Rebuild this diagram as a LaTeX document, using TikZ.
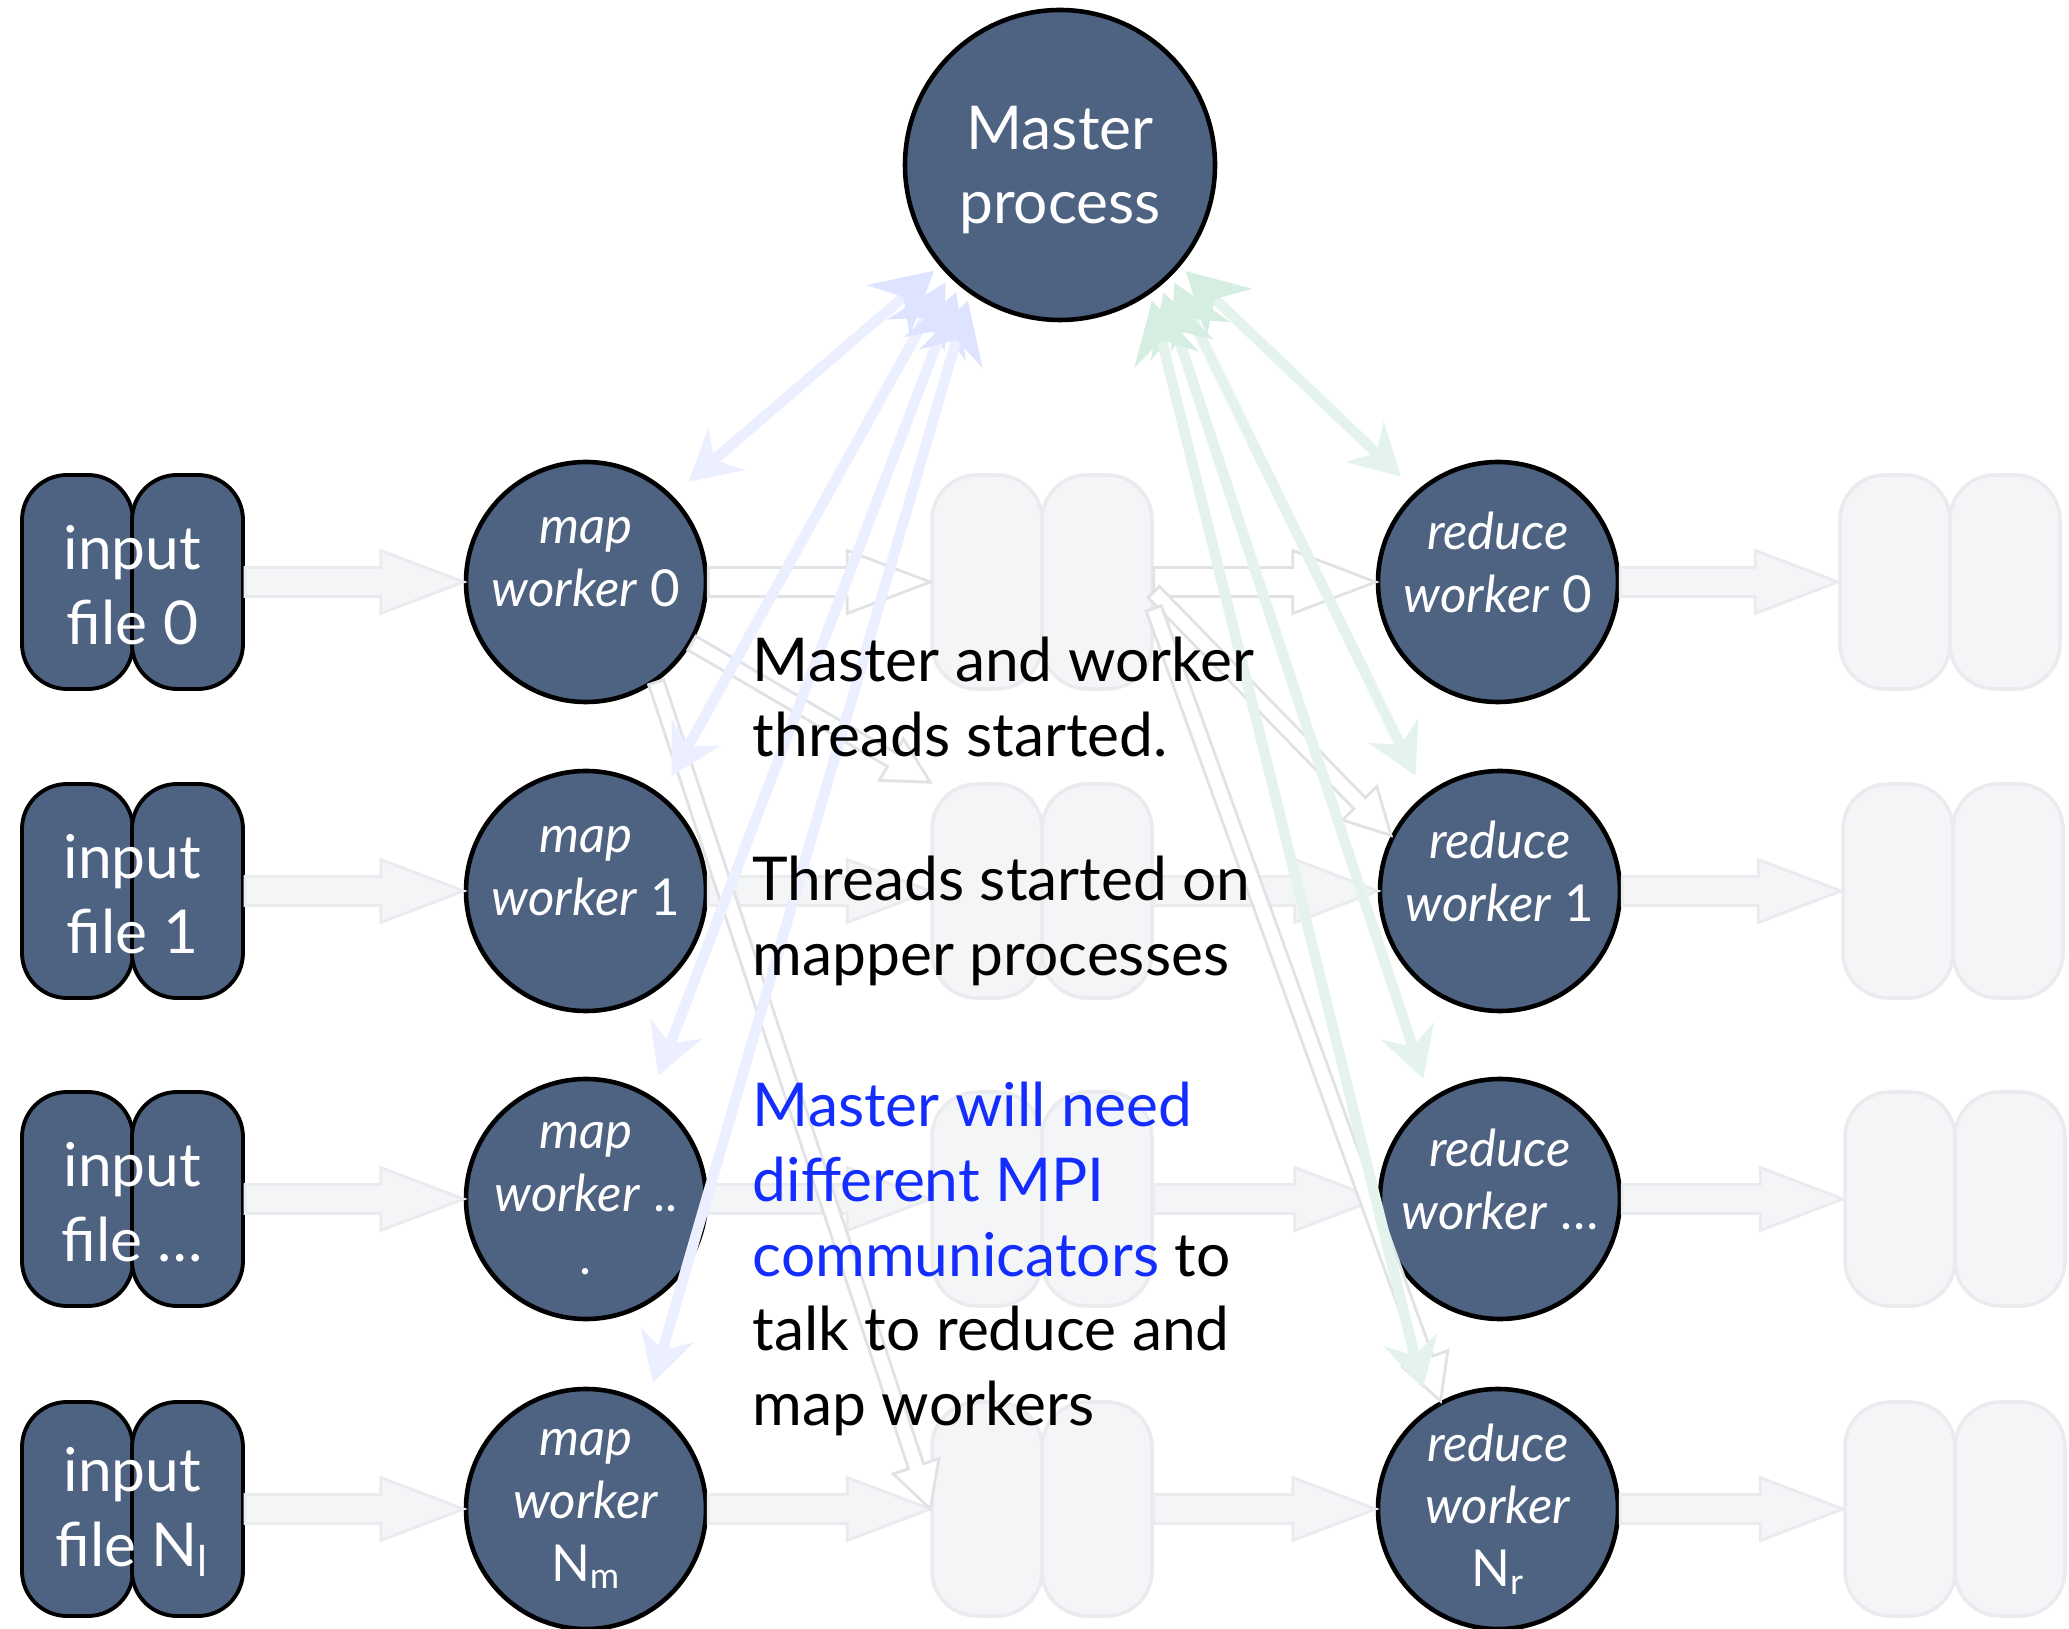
\documentclass[tikz,border=0pt]{standalone}
\usepackage{fontspec}
\setmainfont{Lato}
\usetikzlibrary{calc,arrows.meta}

\definecolor{slate}{RGB}{78,98,130}
\definecolor{ghost}{RGB}{244,245,247}
\definecolor{ghostline}{RGB}{234,235,238}
\definecolor{hollowline}{RGB}{225,226,230}
\definecolor{mpiblue}{RGB}{20,45,255}
\definecolor{chalkblue}{RGB}{236,239,255}
\definecolor{chalkbluehead}{RGB}{222,227,255}
\definecolor{chalkgreen}{RGB}{229,243,237}
\definecolor{chalkgreenhead}{RGB}{214,237,226}

% block arrow: style, from, to, half shaft, half head, head length
\newcommand{\fatarrow}[6]{%
  \coordinate (fb) at ($(#3)!#6!(#2)$);
  \filldraw[#1] ($(#2)!#4!90:(#3)$) -- ($(fb)!#4!-90:(#2)$) -- ($(fb)!#5!-90:(#2)$) -- (#3)
    -- ($(fb)!#5!90:(#2)$) -- ($(fb)!#4!90:(#2)$) -- ($(#2)!#4!-90:(#3)$) -- cycle;}

\begin{document}
\begin{tikzpicture}[
    filebox/.style={draw=black, line width=1.1pt, fill=slate, rounded corners=0.45cm, minimum width=1.11cm, minimum height=2.14cm, inner sep=0pt},
    ghostbox/.style={draw=ghostline, line width=1pt, fill=ghost, rounded corners=0.45cm, minimum width=1.10cm, minimum height=2.14cm, inner sep=0pt},
    worker/.style={circle, draw=black, line width=1.3pt, fill=slate, minimum size=2.40cm, inner sep=0pt},
    wtext/.style={text=white, align=center, inner sep=0pt, font=\fontsize{14.5}{17.9}\selectfont},
    btext/.style={text=white, align=center, inner sep=0pt, font=\fontsize{17.2}{21.3}\selectfont},
    note/.style={align=left, anchor=west, inner sep=0pt, font=\fontsize{17.2}{21.3}\selectfont},
    flow/.style={draw=ghostline, fill=ghost, line width=0.8pt},
    hollow/.style={draw=hollowline, fill=white, line width=0.8pt},
    chalkb/.style={draw=chalkblue, line width=3pt, shorten <=2pt, shorten >=6pt,
        {Stealth[length=0.6cm,width=0.65cm,color=chalkbluehead]}-{Stealth[length=0.5cm,width=0.55cm]}},
    chalkg/.style={draw=chalkgreen, line width=3pt, shorten <=2pt, shorten >=6pt,
        {Stealth[length=0.6cm,width=0.65cm,color=chalkgreenhead]}-{Stealth[length=0.5cm,width=0.55cm]}},
]
\useasboundingbox (0,0) rectangle (20.69,-16.29);

% faint file pairs in the middle and on the right
\node[ghostbox] (mid0l) at (9.87,-5.82) {};
\node[ghostbox] (mid0r) at (10.97,-5.82) {};
\node[ghostbox] (mid1l) at (9.87,-8.91) {};
\node[ghostbox] (mid1r) at (10.97,-8.91) {};
\node[ghostbox] (mid2l) at (9.87,-11.99) {};
\node[ghostbox] (mid2r) at (10.97,-11.99) {};
\node[ghostbox] (mid3l) at (9.87,-15.09) {};
\node[ghostbox] (mid3r) at (10.97,-15.09) {};

\node[ghostbox] (out0l) at (18.95,-5.82) {};
\node[ghostbox] (out0r) at (20.05,-5.82) {};
\node[ghostbox] (out1l) at (18.98,-8.91) {};
\node[ghostbox] (out1r) at (20.08,-8.91) {};
\node[ghostbox] (out2l) at (19.00,-11.99) {};
\node[ghostbox] (out2r) at (20.10,-11.99) {};
\node[ghostbox] (out3l) at (19.00,-15.09) {};
\node[ghostbox] (out3r) at (20.10,-15.09) {};

% input files
\node[filebox] (in0l) at (0.775,-5.82) {};
\node[filebox] (in0r) at (1.875,-5.82) {};
\node[filebox] (in1l) at (0.775,-8.91) {};
\node[filebox] (in1r) at (1.875,-8.91) {};
\node[filebox] (in2l) at (0.775,-11.99) {};
\node[filebox] (in2r) at (1.875,-11.99) {};
\node[filebox] (in3l) at (0.775,-15.09) {};
\node[filebox] (in3r) at (1.875,-15.09) {};

% workers
\node[worker, minimum size=3.10cm] (master) at (10.60,-1.65) {};
\node[worker] (map0) at (5.86,-5.82) {};
\node[worker] (map1) at (5.86,-8.91) {};
\node[worker] (map2) at (5.86,-11.99) {};
\node[worker] (map3) at (5.86,-15.09) {};
\node[worker] (red0) at (14.98,-5.82) {};
\node[worker] (red1) at (15.00,-8.91) {};
\node[worker] (red2) at (15.00,-11.99) {};
\node[worker] (red3) at (14.98,-15.09) {};

% faint data flow
\fatarrow{flow}{in0r.east}{map0.west}{0.145cm}{0.315cm}{0.83cm}
\fatarrow{flow}{in1r.east}{map1.west}{0.145cm}{0.315cm}{0.83cm}
\fatarrow{flow}{in2r.east}{map2.west}{0.145cm}{0.315cm}{0.83cm}
\fatarrow{flow}{in3r.east}{map3.west}{0.145cm}{0.315cm}{0.83cm}
\fatarrow{hollow}{map0.east}{mid0l.west}{0.145cm}{0.315cm}{0.83cm}
\fatarrow{flow}{map1.east}{mid1l.west}{0.145cm}{0.315cm}{0.83cm}
\fatarrow{flow}{map2.east}{mid2l.west}{0.145cm}{0.315cm}{0.83cm}
\fatarrow{flow}{map3.east}{mid3l.west}{0.145cm}{0.315cm}{0.83cm}
\fatarrow{hollow}{mid0r.east}{red0.west}{0.145cm}{0.315cm}{0.83cm}
\fatarrow{flow}{mid1r.east}{red1.west}{0.145cm}{0.315cm}{0.83cm}
\fatarrow{flow}{mid2r.east}{red2.west}{0.145cm}{0.315cm}{0.83cm}
\fatarrow{flow}{mid3r.east}{red3.west}{0.145cm}{0.315cm}{0.83cm}
\fatarrow{flow}{red0.east}{out0l.west}{0.145cm}{0.315cm}{0.83cm}
\fatarrow{flow}{red1.east}{out1l.west}{0.145cm}{0.315cm}{0.83cm}
\fatarrow{flow}{red2.east}{out2l.west}{0.145cm}{0.315cm}{0.83cm}
\fatarrow{flow}{red3.east}{out3l.west}{0.145cm}{0.315cm}{0.83cm}

% shuffle
\fatarrow{hollow}{map0.-30}{mid1l.north west}{0.08cm}{0.24cm}{0.45cm}
\fatarrow{hollow}{map0.-55}{mid3l.west}{0.08cm}{0.24cm}{0.45cm}
\fatarrow{hollow}{mid0r.-10}{red1.153}{0.08cm}{0.24cm}{0.45cm}
\fatarrow{hollow}{mid0r.-25}{red3.118}{0.08cm}{0.24cm}{0.45cm}

% master talks to everybody
\draw[chalkb] (master.220) -- (map0.45);
\draw[chalkb] (master.225) -- (map1.52);
\draw[chalkb] (master.230) -- (map2.58);
\draw[chalkb] (master.235) -- (map3.60);
\draw[chalkg] (master.-40) -- (red0.132);
\draw[chalkg] (master.-45) -- (red1.128);
\draw[chalkg] (master.-50) -- (red2.125);
\draw[chalkg] (master.-55) -- (red3.125);

% labels
\node[btext] (master-t) at (10.60,-1.70) {Master\\process};
\node[btext] (in0) at (1.325,-5.85) {input\\file 0};
\node[btext] (in1) at (1.325,-8.94) {input\\file 1};
\node[btext] (in2) at (1.325,-12.02) {input\\file \dots};
\node[btext] (in3) at (1.325,-15.12) {input\\file N\textsubscript{l}};
\node[wtext] (map0-t) at (5.86,-5.62) {\textit{map}\\\textit{worker} 0};
\node[wtext] (map1-t) at (5.86,-8.71) {\textit{map}\\\textit{worker} 1};
\node[wtext] (map2-t) at (5.86,-11.99) {\textit{map}\\\textit{worker} ..\\.};
\node[wtext] (map3-t) at (5.86,-15.09) {\textit{map}\\\textit{worker}\\N\textsubscript{m}};
\node[wtext] (red0-t) at (14.98,-5.62) {\textit{reduce}\\\textit{worker} 0};
\node[wtext] (red1-t) at (15.00,-8.71) {\textit{reduce}\\\textit{worker} 1};
\node[wtext] (red2-t) at (15.00,-11.79) {\textit{reduce}\\\textit{worker} \dots};
\node[wtext] (red3-t) at (14.98,-15.09) {\textit{reduce}\\\textit{worker}\\N\textsubscript{r}};

\node[note] (started) at (7.52,-6.97) {Master and worker\\threads started.};
\node[note] (mappers) at (7.52,-9.21) {Threads started on\\mapper processes};
\node[note] (comms) at (7.52,-12.59) {\textcolor{mpiblue}{Master will need}\\\textcolor{mpiblue}{different MPI}\\\textcolor{mpiblue}{communicators} to\\talk to reduce and\\map workers};
\end{tikzpicture}
\end{document}
